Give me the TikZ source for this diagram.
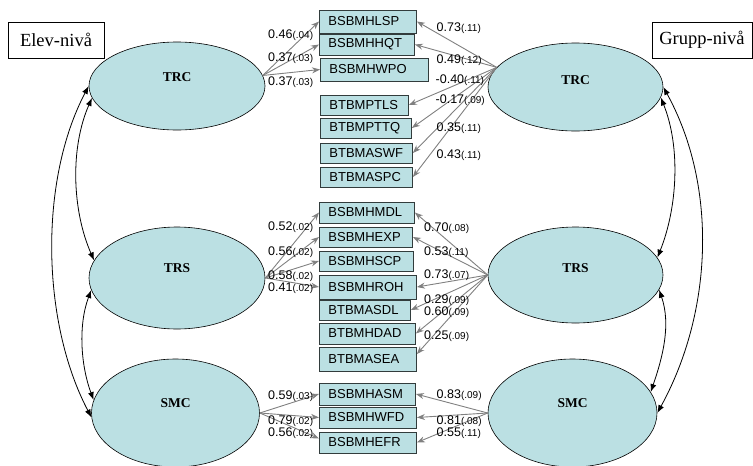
\documentclass[tikz,border=0pt]{standalone}
\usepackage{fontspec}
\setmainfont{Liberation Serif}
\newfontfamily\arialf{Liberation Sans}
\usetikzlibrary{arrows.meta,shapes.geometric}
\definecolor{lblue}{RGB}{187,224,227}
\definecolor{agray}{RGB}{128,128,128}
\definecolor{bdark}{RGB}{50,60,60}
\newcommand\lnum[2]{#1{\fontsize{10}{10}\selectfont(#2)}}
\begin{document}
\begin{tikzpicture}[x=1pt,y=-1pt,
  latent/.style={ellipse, draw=black, line width=0.6pt, fill=lblue, inner sep=0pt},
  ind/.style={rectangle, draw=bdark, line width=0.9pt, fill=lblue, inner xsep=9pt, inner ysep=0pt, align=left, anchor=west, font=\arialf\fontsize{13}{14}\selectfont},
  lvl/.style={rectangle, draw=black, line width=0.6pt, fill=white, minimum height=36pt, inner sep=0pt, font=\fontsize{18.5}{20}\selectfont},
  coef/.style={anchor=west, inner sep=0pt, font=\arialf\fontsize{12.5}{13}\selectfont},
  garr/.style={draw=agray, line width=0.9pt, -{Stealth[length=8pt,width=6pt]}},
  carr/.style={draw=black, line width=0.8pt, {Latex[length=8pt,width=6pt]}-{Latex[length=8pt,width=6pt]}},
  lname/.style={font=\bfseries\fontsize{13.5}{14}\selectfont, inner sep=0pt}
]
\useasboundingbox (0,0) rectangle (753,466);

% latent variables
\node[latent, minimum width=176pt, minimum height=88pt, label={[lname,yshift=9pt]center:TRC}] (lTRC) at (177,86) {};
\node[latent, minimum width=176pt, minimum height=102pt, label={[lname,yshift=10pt]center:TRS}] (lTRS) at (177,278) {};
\node[latent, minimum width=168pt, minimum height=108pt, label={[lname,yshift=10pt]center:SMC}] (lSMC) at (175.5,413) {};
\node[latent, minimum width=175pt, minimum height=88pt, label={[lname,yshift=7pt]center:TRC}] (rTRC) at (575.5,87) {};
\node[latent, minimum width=175pt, minimum height=96pt, label={[lname,yshift=7pt]center:TRS}] (rTRS) at (575.5,275) {};
\node[latent, minimum width=169pt, minimum height=108pt, label={[lname,yshift=10pt]center:SMC}] (rSMC) at (572.5,413) {};

% indicators
\node[ind, text width=79pt, minimum height=23pt] (b1) at (319,21.5) {BSBMHLSP};
\node[ind, text width=77pt, minimum height=21pt] (b2) at (319,44.5) {BSBMHHQT};
\node[ind, text width=90pt, minimum height=23pt] (b3) at (320,69.5) {BSBMHWPO};
\node[ind, text width=70pt, minimum height=20pt] (b4) at (320,105) {BTBMPTLS};
\node[ind, text width=73pt, minimum height=20pt] (b5) at (320,128) {BTBMPTTQ};
\node[ind, text width=74pt, minimum height=20pt] (b6) at (320,153) {BTBMASWF};
\node[ind, text width=74pt, minimum height=20pt] (b7) at (320,177) {BTBMASPC};
\node[ind, text width=77pt, minimum height=21pt] (b8) at (319,212.5) {BSBMHMDL};
\node[ind, text width=75pt, minimum height=20pt] (b9) at (319,237) {BSBMHEXP};
\node[ind, text width=76pt, minimum height=20pt] (b10) at (319,261) {BSBMHSCP};
\node[ind, text width=79pt, minimum height=24pt] (b11) at (319,287) {BSBMHROH};
\node[ind, text width=73pt, minimum height=20pt] (b12) at (319,310) {BTBMASDL};
\node[ind, text width=78pt, minimum height=21pt] (b13) at (319,333.5) {BTBMHDAD};
\node[ind, text width=79pt, minimum height=24pt] (b14) at (319,359) {BTBMASEA};
\node[ind, text width=78pt, minimum height=22pt] (b15) at (319,394) {BSBMHASM};
\node[ind, text width=79pt, minimum height=21pt] (b16) at (319,417.5) {BSBMHWFD};
\node[ind, text width=79pt, minimum height=21pt] (b17) at (319,442.5) {BSBMHEFR};

% loadings, individual level
\draw[garr] (lTRC.7) -- (b1.west);
\draw[garr] (lTRC.7) -- (b2.west);
\draw[garr] (lTRC.7) -- (b3.west);
\draw[garr] (lTRS.east) -- (b8.west);
\draw[garr] (lTRS.east) -- (b9.west);
\draw[garr] (lTRS.east) -- (b10.west);
\draw[garr] (lTRS.east) -- (b11.west);
\draw[garr] (lSMC.east) -- (b15.west);
\draw[garr] (lSMC.east) -- (b16.west);
\draw[garr] (lSMC.east) -- ([yshift=4pt]b17.west);

% loadings, group level
\draw[garr] (rTRC.166) -- (b1.east);
\draw[garr] (rTRC.166) -- (b2.east);
\draw[garr] (rTRC.166) -- (b4.east);
\draw[garr] (rTRC.166) -- (b5.east);
\draw[garr] (rTRC.166) -- (b6.east);
\draw[garr] (rTRC.166) -- (b7.east);
\draw[garr] (rTRS.west) -- (b8.east);
\draw[garr] (rTRS.west) -- (b9.east);
\draw[garr] (rTRS.west) -- (b11.east);
\draw[garr] (rTRS.west) -- (b12.east);
\draw[garr] (rTRS.west) -- (b13.east);
\draw[garr] (rTRS.west) -- ([yshift=5pt]b14.east);
\draw[garr] (rSMC.west) -- (b15.east);
\draw[garr] (rSMC.west) -- (b16.east);
\draw[garr] (rSMC.west) -- (b17.east);

% coefficients left
\node[coef] (cl1) at (268,35) {\lnum{0.46}{.04}};
\node[coef] (cl2) at (268,58) {\lnum{0.37}{.03}};
\node[coef] (cl3) at (268,82) {\lnum{0.37}{.03}};
\node[coef] (cl4) at (268,227) {\lnum{0.52}{.02}};
\node[coef] (cl5) at (268,252) {\lnum{0.56}{.02}};
\node[coef] (cl6) at (268,276) {\lnum{0.58}{.02}};
\node[coef] (cl7) at (268,288) {\lnum{0.41}{.02}};
\node[coef] (cl8) at (268,396) {\lnum{0.59}{.03}};
\node[coef] (cl9) at (268,421) {\lnum{0.79}{.02}};
\node[coef] (cl10) at (268,433) {\lnum{0.56}{.02}};

% coefficients right
\node[coef] (cr1) at (436.5,28) {\lnum{0.73}{.11}};
\node[coef] (cr2) at (436.5,60) {\lnum{0.49}{.12}};
\node[coef] (cr3) at (435.5,80) {\lnum{-0.40}{.11}};
\node[coef] (cr4) at (435.5,100) {\lnum{-0.17}{.09}};
\node[coef] (cr5) at (436.5,128) {\lnum{0.35}{.11}};
\node[coef] (cr6) at (436.5,155) {\lnum{0.43}{.11}};
\node[coef] (cr7) at (424,228) {\lnum{0.70}{.08}};
\node[coef] (cr8) at (424,252) {\lnum{0.53}{.11}};
\node[coef] (cr9) at (424,275) {\lnum{0.73}{.07}};
\node[coef] (cr10) at (424,300) {\lnum{0.29}{.09}};
\node[coef] (cr11) at (424,312) {\lnum{0.60}{.09}};
\node[coef] (cr12) at (424,336) {\lnum{0.25}{.09}};
\node[coef] (cr13) at (436.5,395) {\lnum{0.83}{.09}};
\node[coef] (cr14) at (436.5,421) {\lnum{0.81}{.08}};
\node[coef] (cr15) at (436.5,433) {\lnum{0.55}{.11}};

% covariances, individual level
\draw[carr] (lTRC.west) .. controls +(-50,95) and +(-50,-95) .. (lSMC.183);
\draw[carr] (lTRC.188) .. controls +(-22,50) and +(-22,-50) .. (lTRS.168);
\draw[carr] (lTRS.188) .. controls +(-13,35) and +(-13,-35) .. (lSMC.171);

% covariances, group level
\draw[carr] (rTRC.east) .. controls +(55,100) and +(55,-100) .. (rSMC.east);
\draw[carr] (rTRC.353) .. controls +(20,50) and +(20,-50) .. (rTRS.12);
\draw[carr] (rTRS.350) .. controls +(12,35) and +(12,-35) .. (rSMC.15);

% level labels
\node[lvl, minimum width=96pt] (elev) at (56,40) {Elev-nivå};
\node[lvl, minimum width=100pt] (grupp) at (702,40) {Grupp-nivå};
\end{tikzpicture}
\end{document}
